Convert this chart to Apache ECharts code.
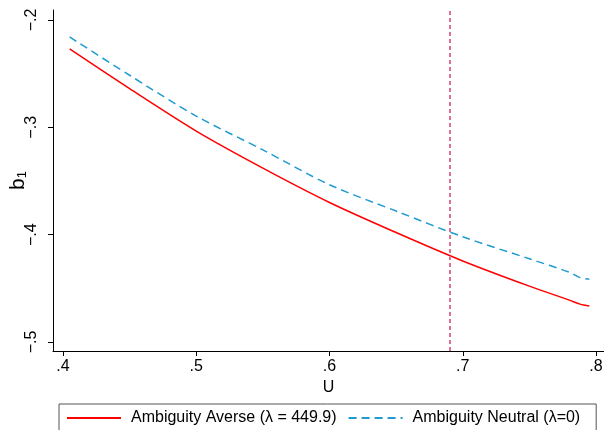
<!DOCTYPE html>
<html>
<head>
<meta charset="utf-8">
<script src="https://cdn.jsdelivr.net/npm/echarts@6/dist/echarts.min.js"></script>
<style>
  html, body { margin: 0; padding: 0; background: #fff; }
  #chart { width: 604px; height: 430px; }
</style>
</head>
<body>
<div id="chart"></div>
<script>
;(function() {
    // U values (x) and b1 for the two models
    var uValues = [0.405, 0.45, 0.5, 0.55, 0.6, 0.65, 0.7, 0.75, 0.78, 0.788, 0.795];
    var averse = [-0.227, -0.264, -0.3035, -0.338, -0.370, -0.398, -0.4245, -0.448, -0.461, -0.4647, -0.4665];
    var neutral = [-0.2158, -0.2515, -0.2895, -0.321, -0.3535, -0.378, -0.402, -0.4225, -0.435, -0.440, -0.4415];
    var xTicks = [0.4, 0.5, 0.6, 0.7, 0.8];
    var yTicks = [-0.2, -0.3, -0.4, -0.5];
    var cutoff = 0.691;
    var names = ['Ambiguity Averse (\u03bb = 449.9)', 'Ambiguity Neutral (\u03bb=0)'];

    function fmt(v) {
        var s = String(Math.round(Math.abs(v) * 10) / 10).replace(/^0/, '');
        return (v < 0 ? '\u2212' : '') + s;
    }
    function pairs(ys) {
        return uValues.map(function(u, i) { return [u, ys[i]]; });
    }

    var font = 'Liberation Sans, Arial, Helvetica, sans-serif';
    var chart = echarts.init(document.getElementById('chart'));
    chart.setOption({
        animation: false,
        textStyle: { fontFamily: font },
        grid: { left: 53, right: 0, top: 10, bottom: 79, containLabel: false, outerBoundsMode: 'none' },
        xAxis: {
            type: 'value',
            min: 0.3925,
            max: 0.806,
            name: 'U',
            nameLocation: 'middle',
            nameGap: 25,
            nameTextStyle: { color: '#000', fontSize: 16, fontFamily: font },
            axisLine: { lineStyle: { color: '#000', width: 1 } },
            axisTick: { show: true, length: 5, customValues: xTicks, lineStyle: { color: '#000' } },
            axisLabel: { customValues: xTicks, color: '#000', fontSize: 16, margin: 8, formatter: fmt },
            splitLine: { show: false }
        },
        yAxis: {
            type: 'value',
            min: -0.5084,
            max: -0.1907,
            name: '{b|b}{s|1}',
            nameLocation: 'middle',
            nameRotate: 90,
            nameGap: 24,
            nameMoveOverlap: false,
            nameTextStyle: {
                rich: {
                    b: { fontSize: 21, color: '#000', fontFamily: font },
                    s: { fontSize: 13, color: '#000', fontFamily: font, verticalAlign: 'bottom', padding: [8, 0, 0, 0] }
                }
            },
            axisLine: { show: true, lineStyle: { color: '#000', width: 1 } },
            axisTick: { show: true, length: 5, customValues: yTicks, lineStyle: { color: '#000' } },
            axisLabel: { customValues: yTicks, color: '#000', fontSize: 16, margin: 13, rotate: 90, formatter: fmt },
            splitLine: { show: false }
        },
        legend: {
            left: 59,
            top: 404,
            padding: [6, 16, 12, 7],
            itemGap: 11,
            itemWidth: 54,
            itemHeight: 14,
            borderColor: '#555',
            borderWidth: 1,
            itemStyle: { opacity: 0 },
            textStyle: { color: '#000', fontSize: 16, fontFamily: font, padding: [0, 0, 0, 5] },
            data: [names[0], names[1]]
        },
        series: [
            {
                name: names[0],
                type: 'line',
                data: pairs(averse),
                smooth: 0.3,
                symbol: 'none',
                lineStyle: { color: '#ff0000', width: 1.5 },
                itemStyle: { color: '#ff0000' },
                markLine: {
                    silent: true,
                    symbol: 'none',
                    label: { show: false },
                    lineStyle: { color: '#de7391', width: 2, type: [4, 3] },
                    data: [{ xAxis: cutoff }]
                }
            },
            {
                name: names[1],
                type: 'line',
                data: pairs(neutral),
                smooth: 0.3,
                symbol: 'none',
                lineStyle: { color: '#1f9bd1', width: 1.5, type: [8, 5] },
                itemStyle: { color: '#1f9bd1' }
            }
        ]
    });
})()
</script>
</body>
</html>
